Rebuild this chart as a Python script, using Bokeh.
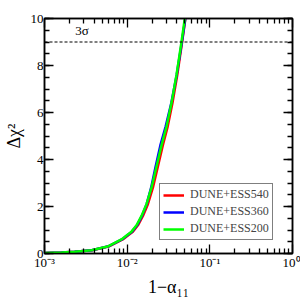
from bokeh.plotting import figure
from bokeh.models import (Span, Label, LogAxis, LinearAxis, FixedTicker, SingleIntervalTicker,
                          CustomJSTickFormatter, Legend, LegendItem, Range1d)
from bokeh.embed import file_html
from bokeh.resources import INLINE

# ---- data ----
dchi2 = [0.02, 0.04, 0.07, 0.14, 0.31, 0.6, 0.8, 0.93, 1.2, 1.6, 2.1, 2.8, 3.7, 4.6, 5.4,
         6.4, 7.6, 9.0, 10.0, 10.5]
x_ess200 = [0.001, 0.00161, 0.00231, 0.00371, 0.00594, 0.00853, 0.01009, 0.01127, 0.01297,
            0.01491, 0.01713, 0.01968, 0.02263, 0.02601, 0.02990, 0.03437, 0.03950, 0.04540,
            0.04977, 0.0520]
x_ess540 = [0.001, 0.00161, 0.00233, 0.00378, 0.00611, 0.00884, 0.01048, 0.01172, 0.01349,
            0.01551, 0.01781, 0.02047, 0.02353, 0.02697, 0.03090, 0.03530, 0.04040, 0.04620,
            0.05060, 0.0528]
x_ess360 = [0.001, 0.00161, 0.00231, 0.00373, 0.00600, 0.00865, 0.01024, 0.01145, 0.01318,
            0.01510, 0.01720, 0.01950, 0.02210, 0.02520, 0.02920, 0.03420, 0.03970, 0.04590,
            0.05050, 0.0528]
series_labels = ["DUNE+ESS540", "DUNE+ESS360", "DUNE+ESS200"]
series_colors = ["#ff0000", "#0000ff", "#00ff00"]
sigma3_level = 9.0
x_tick_values = [1e-3, 1e-2, 1e-1, 1.0]
x_tick_labels = ["10\u207b\u00b3", "10\u207b\u00b2", "10\u207b\u00b9", "10\u2070"]

SERIF = "Liberation Serif"

p = figure(frame_width=248, frame_height=235, x_axis_type="log", output_backend="svg",
           toolbar_location=None, x_range=Range1d(1e-3, 1.0), y_range=Range1d(0, 10),
           min_border_left=35, min_border_top=18, min_border_right=8, min_border_bottom=30)
p.grid.visible = False
p.outline_line_color = "black"
p.outline_line_width = 1.5
p.background_fill_color = "white"
p.border_fill_color = "white"

minor = [m * 10.0 ** e for e in (-3, -2, -1) for m in range(2, 10)]
xtick = FixedTicker(ticks=x_tick_values, minor_ticks=minor)
fmt = CustomJSTickFormatter(args=dict(vals=x_tick_values, labs=x_tick_labels), code="""
  for (let i = 0; i < vals.length; i++) { if (Math.abs(Math.log10(tick) - Math.log10(vals[i])) < 1e-6) return labs[i]; }
  return '';
""")
blank = CustomJSTickFormatter(code="return '';")
ytick = SingleIntervalTicker(interval=2, num_minor_ticks=4)

def style(ax, labels=True):
    ax.axis_line_color = "black"
    ax.axis_line_width = 1.5
    ax.major_tick_in = 9
    ax.major_tick_out = 0
    ax.minor_tick_in = 5
    ax.minor_tick_out = 0
    ax.major_tick_line_width = 1.3
    ax.minor_tick_line_width = 1.3
    ax.major_tick_line_color = "black"
    ax.minor_tick_line_color = "black"
    ax.major_label_text_font = SERIF
    ax.major_label_text_font_size = "13px"
    ax.major_label_text_color = "black"
    ax.major_label_standoff = 1 if labels else 0

xa = p.xaxis[0]
xa.ticker = xtick
xa.formatter = fmt
style(xa)
xa.axis_label = "1\u2212\u03b1\u2081\u2081"
xa.axis_label_text_font = SERIF
xa.axis_label_text_font_size = "18px"
xa.axis_label_text_font_style = "normal"
xa.axis_label_text_color = "black"
xa.axis_label_standoff = 4

ya = p.yaxis[0]
ya.ticker = ytick
style(ya)
ya.axis_label = "\u0394\u03c7\u00b2"
ya.axis_label_text_font = SERIF
ya.axis_label_text_font_size = "18px"
ya.axis_label_text_font_style = "normal"
ya.axis_label_text_color = "black"
ya.axis_label_standoff = 4

top = LogAxis(ticker=xtick, formatter=blank)
style(top, labels=False)
p.add_layout(top, "above")
right = LinearAxis(ticker=ytick, formatter=blank)
style(right, labels=False)
p.add_layout(right, "right")

renderers = []
for xs, c in zip([x_ess540, x_ess360, x_ess200], series_colors):
    r = p.line(xs, dchi2, line_color=c, line_width=2.5)
    renderers.append(r)

p.add_layout(Span(location=sigma3_level, dimension="width", line_color="black",
                  line_width=1.2, line_dash="3 2"))
p.add_layout(Label(x=0.00235, y=9.15, text="3\u03c3", text_font=SERIF,
                   text_font_size="13px", text_color="black"))

legend = Legend(items=[LegendItem(label=l, renderers=[r]) for l, r in zip(series_labels, renderers)],
                location=(115, 13), label_text_font=SERIF, label_text_font_size="12px",
                glyph_width=21, glyph_height=14, label_height=14, spacing=2, padding=3,
                label_standoff=6, margin=0, border_line_color="black", border_line_width=1.5,
                background_fill_alpha=1.0)
p.add_layout(legend, "center")

open("out.html", "w").write(file_html(p, INLINE))
